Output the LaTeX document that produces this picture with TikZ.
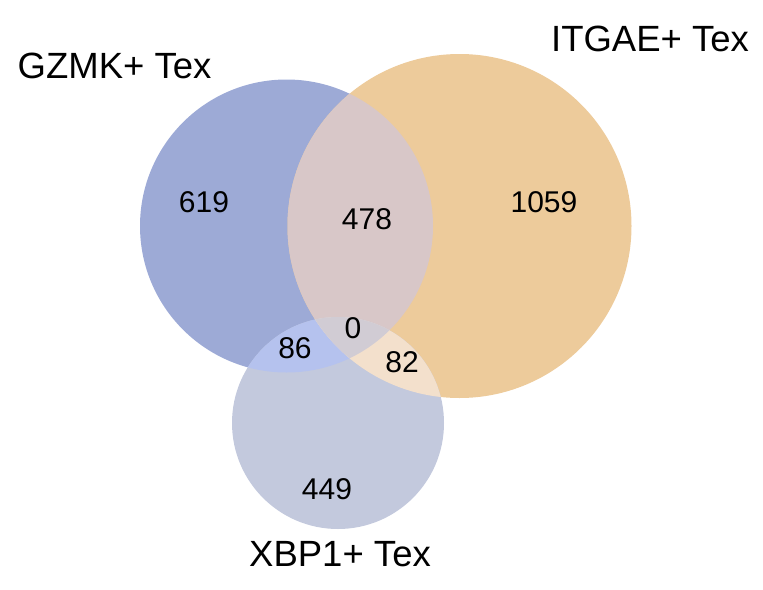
\documentclass[tikz,border=0pt]{standalone}
\usepackage{fontspec}
\setmainfont{Liberation Sans}
\usetikzlibrary{positioning}

\definecolor{gzmkcol}{RGB}{157,170,214}
\definecolor{itgaecol}{RGB}{237,203,155}
\definecolor{xbpcol}{RGB}{195,201,221}
\definecolor{gicol}{RGB}{216,199,200}
\definecolor{gxcol}{RGB}{181,194,238}
\definecolor{ixcol}{RGB}{243,224,204}
\definecolor{gixcol}{RGB}{209,204,212}

\newcommand{\gzmkset}{(286.5,226) circle[radius=146.5pt]}
\newcommand{\itgaeset}{(459.5,226) circle[radius=172pt]}
\newcommand{\xbpset}{(338,423) circle[radius=106pt]}

\begin{document}
\begin{tikzpicture}[
  x=1pt, y=-1pt,
  setname/.style={font=\fontsize{36.5}{40}\selectfont, inner sep=0pt},
  count/.style={font=\fontsize{30}{33}\selectfont, inner sep=0pt}
]
\useasboundingbox (0,0) rectangle (763,589);

% the three sets
\fill[gzmkcol] \gzmkset;
\fill[itgaecol] \itgaeset;
\fill[xbpcol] \xbpset;

% overlaps
\begin{scope}
  \clip \gzmkset;
  \fill[gicol] \itgaeset;
  \fill[gxcol] \xbpset;
\end{scope}
\begin{scope}
  \clip \itgaeset;
  \fill[ixcol] \xbpset;
  \clip \gzmkset;
  \fill[gixcol] \xbpset;
\end{scope}

% set names
\node[setname] (gzmk) at (114.5,66) {GZMK+ Tex};
\node[setname] (itgae) at (650,39) {ITGAE+ Tex};
\node[setname] (xbp) at (340,554) {XBP1+ Tex};

% region counts
\node[count] (g) at (204,202) {619};
\node[count] (i) at (544,202) {1059};
\node[count] (gi) at (367,219) {478};
\node[count] (gix) at (353,328) {0};
\node[count] (gx) at (295,348) {86};
\node[count] (ix) at (402,362.5) {82};
\node[count] (x) at (327,489) {449};
\end{tikzpicture}
\end{document}
